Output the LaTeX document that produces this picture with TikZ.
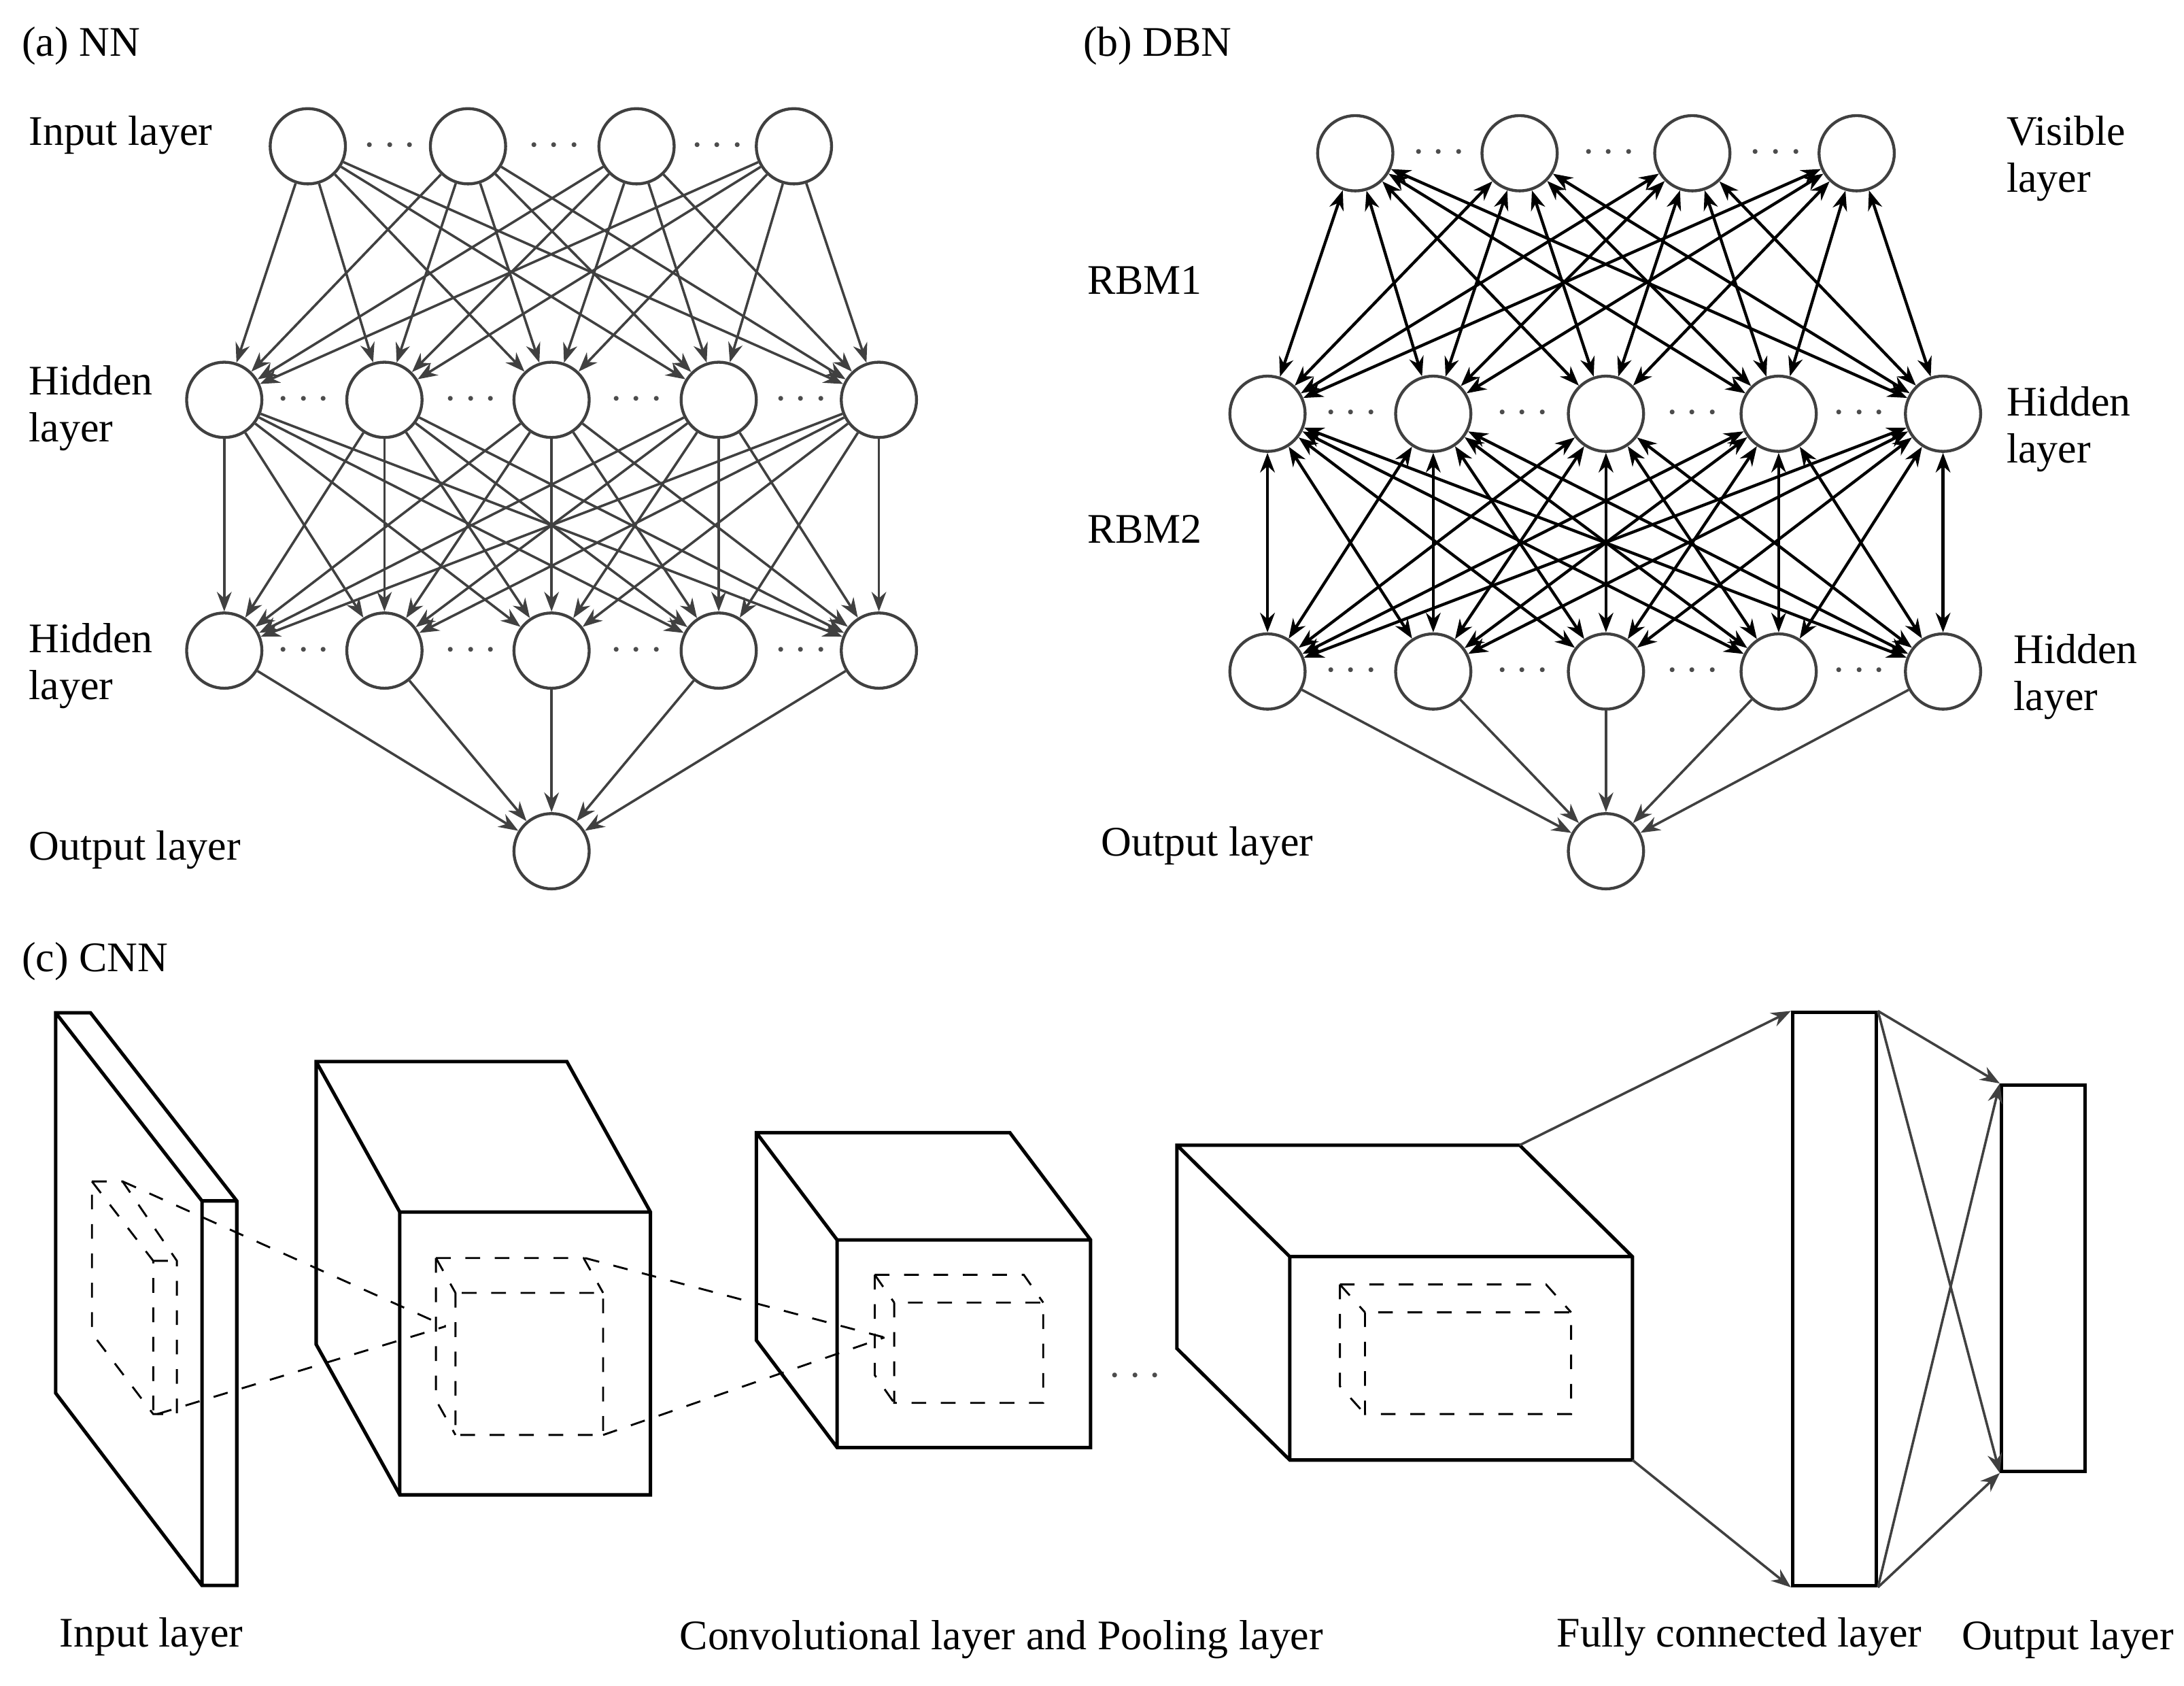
\documentclass[tikz,border=0pt]{standalone}
\usepackage{fontspec}
\setmainfont{Liberation Serif}
\usetikzlibrary{arrows.meta}
\tikzset{
  neuron/.style={circle, draw=black!75, line width=0.6pt, minimum size=0.54cm, inner sep=0pt, fill=white},
  lbl/.style={anchor=west, inner sep=0pt, font=\fontsize{8.6}{9.6}\selectfont, align=left},
  dots/.style={text=black!70, inner sep=0pt, font=\fontsize{8.6}{9.6}\selectfont},
  nnarr/.style={draw=black!75, line width=0.5pt, -{Stealth[length=4pt,width=3pt]}},
  rbm/.style={draw=black, line width=0.6pt, {Stealth[length=4pt,width=3pt]}-{Stealth[length=4pt,width=3pt]}},
  box/.style={line width=0.7pt},
  inner/.style={dashed, line width=0.4pt}
}
\begin{document}
\begin{tikzpicture}[x=0.01cm, y=-0.01cm]
  \useasboundingbox (0,0) rectangle (1568,1210);
  % (a) NN
  \node[lbl] at (15,33) {(a) NN};
  \node[lbl] at (20,97) {Input layer};
  \node[lbl] at (20,293) {Hidden\\layer};
  \node[lbl] at (20,478) {Hidden\\layer};
  \node[lbl] at (20,610) {Output layer};
  \foreach[count=\i] \x in {221,336,457,570}
    \node[neuron] (a-in-\i) at (\x,105) {};
  \foreach[count=\i] \x in {161,276,396,516,631} {
    \node[neuron] (a-h1-\i) at (\x,287) {};
    \node[neuron] (a-h2-\i) at (\x,467) {};
  }
  \node[neuron] (a-out) at (396,611) {};
  \foreach \x in {280,398,515} \node[dots] at (\x,105) {$\cdots$};
  \foreach \x in {218,338,457,575} {
    \node[dots] at (\x,287) {$\cdots$};
    \node[dots] at (\x,467) {$\cdots$};
  }
  \foreach \i in {1,...,4}
    \foreach \j in {1,...,5}
      \draw[nnarr] (a-in-\i) -- (a-h1-\j);
  \foreach \i in {1,...,5} {
    \foreach \j in {1,...,5}
      \draw[nnarr] (a-h1-\i) -- (a-h2-\j);
    \draw[nnarr] (a-h2-\i) -- (a-out);
  }
  % (b) DBN
  \node[lbl] at (777,33) {(b) DBN};
  \node[lbl] at (780,201) {RBM1};
  \node[lbl] at (780,380) {RBM2};
  \node[lbl] at (1440,114) {Visible\\layer};
  \node[lbl] at (1440,308) {Hidden\\layer};
  \node[lbl] at (1445,486) {Hidden\\layer};
  \node[lbl] at (790,607) {Output layer};
  \foreach[count=\i] \x in {973,1091,1215,1333}
    \node[neuron] (b-vis-\i) at (\x,110) {};
  \foreach[count=\i] \x in {910,1029,1153,1277,1395} {
    \node[neuron] (b-h1-\i) at (\x,297) {};
    \node[neuron] (b-h2-\i) at (\x,482) {};
  }
  \node[neuron] (b-out) at (1153,611) {};
  \foreach \x in {1033,1155,1275} \node[dots] at (\x,110) {$\cdots$};
  \foreach \x in {970,1093,1215,1335} {
    \node[dots] at (\x,297) {$\cdots$};
    \node[dots] at (\x,482) {$\cdots$};
  }
  \foreach \i in {1,...,4}
    \foreach \j in {1,...,5}
      \draw[rbm] (b-vis-\i) -- (b-h1-\j);
  \foreach \i in {1,...,5} {
    \foreach \j in {1,...,5}
      \draw[rbm] (b-h1-\i) -- (b-h2-\j);
    \draw[nnarr] (b-h2-\i) -- (b-out);
  }
  % (c) CNN
  \node[lbl] at (15,690) {(c) CNN};
  \draw[box] (40,727) -- (65,727) -- (170,862) -- (170,1138) -- (145,1138) -- (40,1000) -- cycle
    (40,727) -- (145,862) -- (145,1138) (145,862) -- (170,862);
  \draw[inner] (66,848) -- (88,848) -- (127,905) -- (127,1015) -- (110,1015) -- (66,957) -- cycle
    (66,848) -- (110,905) -- (110,1015) (110,905) -- (127,905);
  \foreach \l/\t/\r/\b/\fl/\ft in {227/762/467/1073/287/870, 543/813/783/1039/601/890, 845/822/1172/1048/926/902}
    \draw[box] (\l,\t) -- (\r-\fl+\l,\t) -- (\r,\ft) -- (\r,\b) -- (\fl,\b) -- (\l,\b-\ft+\t) -- cycle
      (\l,\t) -- (\fl,\ft) -- (\r,\ft) (\fl,\ft) -- (\fl,\b);
  \foreach \l/\t/\r/\b/\fl/\ft in {313/903/433/1030/327/928, 628/915/749/1007/642/935, 962/922/1128/1015/980/942}
    \draw[inner] (\fl,\ft) rectangle (\r,\b)
      (\l,\t) -- (\r-\fl+\l,\t) -- (\r,\ft) (\l,\t) -- (\fl,\ft)
      (\l,\t) -- (\l,\b-\ft+\t) -- (\fl,\b);
  \draw[inner] (88,848) -- (320,952) (113,1015) -- (320,952);
  \draw[inner] (420,903) -- (635,960) (433,1030) -- (635,960);
  \node[dots] at (815,988) {$\cdots$};
  \coordinate (c4-tr) at (1091,822);
  \coordinate (c4-br) at (1172,1048);
  \node[draw, box, minimum width=0.6cm, minimum height=4.11cm, inner sep=0pt] (fc) at (1317,932.5) {};
  \node[draw, box, minimum width=0.6cm, minimum height=2.77cm, inner sep=0pt] (outl) at (1467,917.5) {};
  \draw[nnarr] (c4-tr) -- (fc.north west);
  \draw[nnarr] (c4-br) -- (fc.south west);
  \foreach \a in {north east, south east}
    \foreach \b in {north west, south west}
      \draw[nnarr] (fc.\a) -- (outl.\b);
  \node[lbl] at (42,1175) {Input layer};
  \node[lbl, anchor=center] at (719,1177) {Convolutional layer and Pooling layer};
  \node[lbl] at (1117,1175) {Fully connected layer};
  \node[lbl] at (1408,1177) {Output layer};
\end{tikzpicture}
\end{document}
